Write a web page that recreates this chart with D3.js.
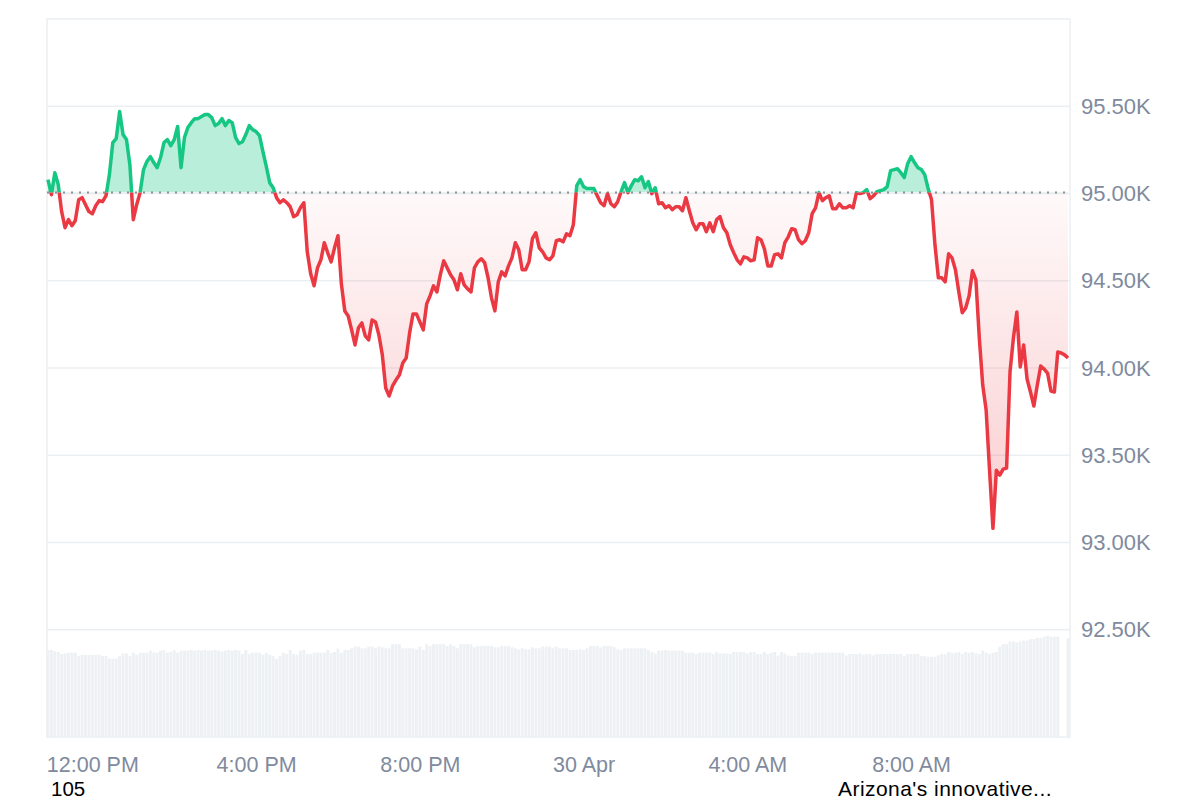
<!DOCTYPE html>
<meta charset="utf-8">
<script src="https://d3js.org/d3.v7.min.js"></script>
<style>
  body { margin: 0; background: #fff; }
  text { font-family: "Liberation Sans", Arial, sans-serif; }
</style>
<div id="chart"></div>
<script>
// one price every 5 minutes, first point 29 Apr 10:55
var startTime = new Date(2025, 3, 29, 10, 55);
var stepMinutes = 5;

var prices = [
  95079, 94993, 95119, 95051, 94896, 94804, 94850, 94815, 94844, 94964,
  94976, 94936, 94896, 94884, 94930, 94959, 94953, 94987, 95108, 95292,
  95315, 95470, 95338, 95309, 95165, 94850, 94936, 95005, 95137, 95183,
  95211, 95177, 95148, 95206, 95292, 95309, 95274, 95309, 95384, 95148,
  95320, 95378, 95406, 95429, 95429, 95441, 95452, 95452, 95435, 95389,
  95401, 95429, 95389, 95418, 95406, 95320, 95286, 95297, 95338, 95389,
  95366, 95355, 95332, 95240, 95154, 95062, 95033, 94976, 94947, 94964,
  94947, 94924, 94867, 94878, 94918, 94947, 94666, 94540, 94471, 94574,
  94620, 94718, 94660, 94608, 94689, 94758, 94482, 94327, 94298, 94218,
  94132, 94230, 94258, 94184, 94161, 94275, 94264, 94189, 94075, 93885,
  93839, 93897, 93931, 93960, 94029, 94057, 94201, 94310, 94310, 94264,
  94218, 94367, 94413, 94471, 94436, 94534, 94614, 94574, 94534, 94505,
  94448, 94540, 94476, 94453, 94436, 94574, 94608, 94626, 94603, 94517,
  94402, 94327, 94494, 94551, 94528, 94585, 94631, 94718, 94677, 94563,
  94563, 94608, 94741, 94775, 94689, 94666, 94631, 94620, 94643, 94729,
  94735, 94723, 94769, 94758, 94821, 95045, 95079, 95039, 95028, 95028,
  95028, 94987, 94947, 94930, 94999, 94941, 94924, 94953, 95010, 95062,
  95005, 95045, 95079, 95073, 95096, 95033, 95068, 94999, 95033, 94941,
  94947, 94918, 94930, 94907, 94924, 94924, 94901, 94976, 94901, 94832,
  94792, 94827, 94827, 94781, 94832, 94781, 94850, 94867, 94804, 94775,
  94706, 94660, 94620, 94597, 94637, 94631, 94614, 94620, 94746, 94735,
  94683, 94585, 94585, 94649, 94654, 94631, 94718, 94752, 94798, 94792,
  94735, 94712, 94729, 94775, 94884, 94918, 95005, 94959, 94976, 94987,
  94913, 94913, 94941, 94918, 94918, 94930, 94918, 95005, 94999, 95005,
  95022, 94970, 94987, 95010, 95016, 95022, 95039, 95131, 95137, 95142,
  95119, 95091, 95171, 95211, 95177, 95148, 95137, 95108, 95028, 94964,
  94706, 94517, 94517, 94494, 94654, 94631, 94563, 94436, 94316, 94344,
  94413, 94557, 94505, 94172, 93902, 93759, 93414, 93081, 93414, 93386,
  93420, 93426, 93977, 94172, 94321, 94006, 94132, 93937, 93862, 93782,
  93902, 94011, 93994, 93971, 93868, 93862, 94092, 94086, 94075, 94057
];

// volume, billions USD
var volumes = [
  25.6, 25.6, 25.2, 25.0, 24.4, 24.6, 24.8, 24.8, 24.8, 23.8,
  24.2, 24.2, 24.2, 24.2, 24.2, 24.2, 23.8, 23.8, 23.1, 23.0,
  23.1, 23.8, 24.6, 24.6, 23.8, 24.8, 24.2, 24.8, 24.8, 24.8,
  25.4, 24.8, 24.8, 25.4, 25.6, 24.8, 25.0, 25.6, 24.8, 25.4,
  25.4, 25.4, 25.6, 25.4, 25.6, 25.4, 25.6, 25.4, 25.4, 25.6,
  25.4, 25.2, 25.4, 25.6, 25.4, 25.6, 25.4, 24.4, 25.6, 24.4,
  24.8, 24.8, 24.8, 24.2, 24.8, 24.2, 23.8, 23.0, 23.8, 24.8,
  24.4, 25.6, 24.4, 24.2, 25.4, 25.6, 24.4, 24.4, 24.8, 24.8,
  24.8, 24.8, 25.6, 24.8, 25.0, 26.0, 24.8, 25.6, 25.6, 26.1,
  26.6, 26.6, 26.1, 26.1, 26.6, 26.6, 26.1, 26.6, 26.4, 26.1,
  26.1, 27.3, 27.3, 27.3, 26.1, 26.1, 26.1, 26.1, 25.8, 26.6,
  25.6, 27.3, 26.8, 27.3, 27.3, 27.3, 27.3, 26.8, 27.3, 26.8,
  26.1, 27.3, 27.3, 27.3, 27.3, 26.4, 26.8, 26.8, 26.8, 26.8,
  26.8, 26.4, 26.4, 26.8, 26.8, 26.8, 26.4, 26.1, 25.8, 26.1,
  25.8, 25.8, 26.4, 26.1, 26.1, 26.6, 26.6, 26.6, 26.1, 26.6,
  26.1, 26.1, 26.1, 25.6, 25.6, 25.6, 25.8, 25.6, 26.1, 26.8,
  26.8, 26.8, 26.4, 26.8, 26.8, 26.8, 26.4, 25.8, 25.6, 26.1,
  26.1, 26.1, 26.1, 26.1, 26.1, 26.1, 25.6, 25.0, 24.6, 25.4,
  25.4, 25.6, 25.4, 25.4, 25.4, 25.4, 25.4, 24.8, 24.8, 24.8,
  24.4, 24.8, 24.8, 24.8, 24.8, 24.4, 25.0, 24.6, 24.6, 24.6,
  24.4, 25.0, 25.0, 25.0, 25.0, 24.6, 25.0, 25.0, 24.4, 24.4,
  25.0, 24.4, 24.8, 25.0, 24.0, 25.0, 24.6, 24.0, 23.8, 23.8,
  24.8, 24.8, 24.8, 24.8, 24.4, 24.8, 24.8, 24.8, 24.8, 24.8,
  24.8, 24.8, 24.8, 24.8, 24.0, 24.4, 24.4, 24.4, 24.6, 24.2,
  24.4, 24.4, 24.0, 24.4, 24.4, 24.4, 24.4, 24.4, 24.4, 24.4,
  24.4, 23.8, 24.4, 24.4, 24.4, 24.4, 23.8, 23.8, 23.6, 23.6,
  23.6, 24.0, 24.4, 24.4, 25.0, 24.8, 24.8, 25.0, 24.4, 25.0,
  24.8, 25.0, 24.6, 24.4, 25.4, 24.8, 24.4, 24.8, 25.0, 26.6,
  27.3, 27.3, 28.1, 28.1, 27.8, 28.1, 28.4, 28.4, 28.8, 28.8,
  29.1, 29.1, 29.5, 29.8, 29.5, 29.5, 29.5, 0, 0, 29.0
];

var openPrice = 95005;
var priceTicks = [92500, 93000, 93500, 94000, 94500, 95000, 95500];
var timeTicks = [
  new Date(2025, 3, 29, 12), new Date(2025, 3, 29, 16), new Date(2025, 3, 29, 20),
  new Date(2025, 3, 30, 0), new Date(2025, 3, 30, 4), new Date(2025, 3, 30, 8)
];
var timeLabels = ["12:00 PM", "4:00 PM", "8:00 PM", "30 Apr", "4:00 AM", "8:00 AM"];

var data = prices.map(function(p, i) {
  return {
    time: new Date(startTime.getTime() + i * stepMinutes * 60000),
    price: p,
    volume: volumes[i]
  };
});

// set the dimensions and margins of the graph
var margin = {top: 19, right: 130, bottom: 63, left: 47},
  width = 1200 - margin.left - margin.right,
  height = 800 - margin.top - margin.bottom;

var svgRoot = d3.select("#chart")
  .append("svg")
    .attr("width", 1200)
    .attr("height", 800)
    .style("display", "block");

var svg = svgRoot.append("g")
    .attr("transform", "translate(" + margin.left + "," + margin.top + ")");

var x = d3.scaleTime()
  .domain(d3.extent(data, function(d) { return d.time; }))
  .range([1, width - 2]);

var y = d3.scaleLinear()
  .domain([91885, 96000])
  .range([height, 0]);

var yVol = d3.scaleLinear()
  .domain([0, 30])
  .range([height, height - 102]);

var gridColor = "#eceff2";
var labelColor = "#808a9d";
var green = "#16c784";
var red = "#ea3943";

// gridlines
svg.selectAll(".grid")
  .data(priceTicks)
  .enter()
  .append("line")
    .attr("x1", 0)
    .attr("x2", width)
    .attr("y1", function(d) { return y(d); })
    .attr("y2", function(d) { return y(d); })
    .style("stroke", gridColor)
    .style("stroke-width", 1.5);

// volume bars
var step = x(data[1].time) - x(data[0].time);
svg.selectAll(".vol")
  .data(data)
  .enter()
  .append("rect")
    .attr("x", function(d) { return x(d.time) - step * 0.43; })
    .attr("y", function(d) { return yVol(d.volume); })
    .attr("width", step * 0.86)
    .attr("height", function(d) { return height - yVol(d.volume); })
    .style("fill", "#eef1f4");

// frame
svg.append("rect")
  .attr("x", 0)
  .attr("y", 0)
  .attr("width", width)
  .attr("height", height)
  .style("fill", "none")
  .style("stroke", gridColor)
  .style("stroke-width", 1.5);

var yBase = y(openPrice);

var defs = svgRoot.append("defs");
defs.append("clipPath").attr("id", "above")
  .append("rect")
    .attr("x", -5).attr("y", -5)
    .attr("width", width + 10).attr("height", yBase + 5);
defs.append("clipPath").attr("id", "below")
  .append("rect")
    .attr("x", -5).attr("y", yBase)
    .attr("width", width + 10).attr("height", height - yBase + 5);

var grad = defs.append("linearGradient")
  .attr("id", "redFill")
  .attr("gradientUnits", "userSpaceOnUse")
  .attr("x1", 0).attr("x2", 0)
  .attr("y1", yBase)
  .attr("y2", y(d3.min(prices)));
grad.append("stop").attr("offset", "0%").attr("stop-color", red).attr("stop-opacity", 0.03);
grad.append("stop").attr("offset", "100%").attr("stop-color", red).attr("stop-opacity", 0.25);

var area = d3.area()
  .x(function(d) { return x(d.time); })
  .y0(yBase)
  .y1(function(d) { return y(d.price); });

var line = d3.line()
  .x(function(d) { return x(d.time); })
  .y(function(d) { return y(d.price); });

svg.append("path")
  .datum(data)
  .attr("clip-path", "url(#above)")
  .attr("d", area)
  .style("fill", green)
  .style("fill-opacity", 0.3);

svg.append("path")
  .datum(data)
  .attr("clip-path", "url(#below)")
  .attr("d", area)
  .style("fill", "url(#redFill)");

// dotted open price line
svg.append("line")
  .attr("x1", 0)
  .attr("x2", width)
  .attr("y1", yBase)
  .attr("y2", yBase)
  .style("stroke", "#8a8f98")
  .style("stroke-width", 2)
  .style("stroke-dasharray", "2,6");

svg.append("path")
  .datum(data)
  .attr("clip-path", "url(#above)")
  .attr("d", line)
  .style("fill", "none")
  .style("stroke", green)
  .style("stroke-width", 3.5)
  .style("stroke-linejoin", "round");

svg.append("path")
  .datum(data)
  .attr("clip-path", "url(#below)")
  .attr("d", line)
  .style("fill", "none")
  .style("stroke", red)
  .style("stroke-width", 3.5)
  .style("stroke-linejoin", "round");

// axes
var yAxis = svg.append("g")
  .attr("transform", "translate(" + width + ",0)")
  .call(d3.axisRight(y)
    .tickValues(priceTicks)
    .tickSize(0)
    .tickPadding(11)
    .tickFormat(function(d) { return (d / 1000).toFixed(2) + "K"; }));
yAxis.select(".domain").remove();
yAxis.selectAll("text")
  .style("font-size", "22px")
  .style("fill", labelColor);

var xAxis = svg.append("g")
  .attr("transform", "translate(0," + height + ")")
  .call(d3.axisBottom(x)
    .tickValues(timeTicks)
    .tickSize(0)
    .tickPadding(19.5)
    .tickFormat(function(d, i) { return timeLabels[i]; }));
xAxis.select(".domain").remove();
xAxis.selectAll("text")
  .style("font-size", "21.5px")
  .style("fill", labelColor);

// stray labels under the axis
svgRoot.append("text")
  .attr("x", 51)
  .attr("y", 795.5)
  .style("font-size", "20.5px")
  .style("fill", "#000")
  .text("105");
svgRoot.append("text")
  .attr("x", 838)
  .attr("y", 795.5)
  .style("font-size", "21px")
  .style("letter-spacing", "0.45px")
  .style("fill", "#000")
  .text("Arizona's innovative...");
</script>
